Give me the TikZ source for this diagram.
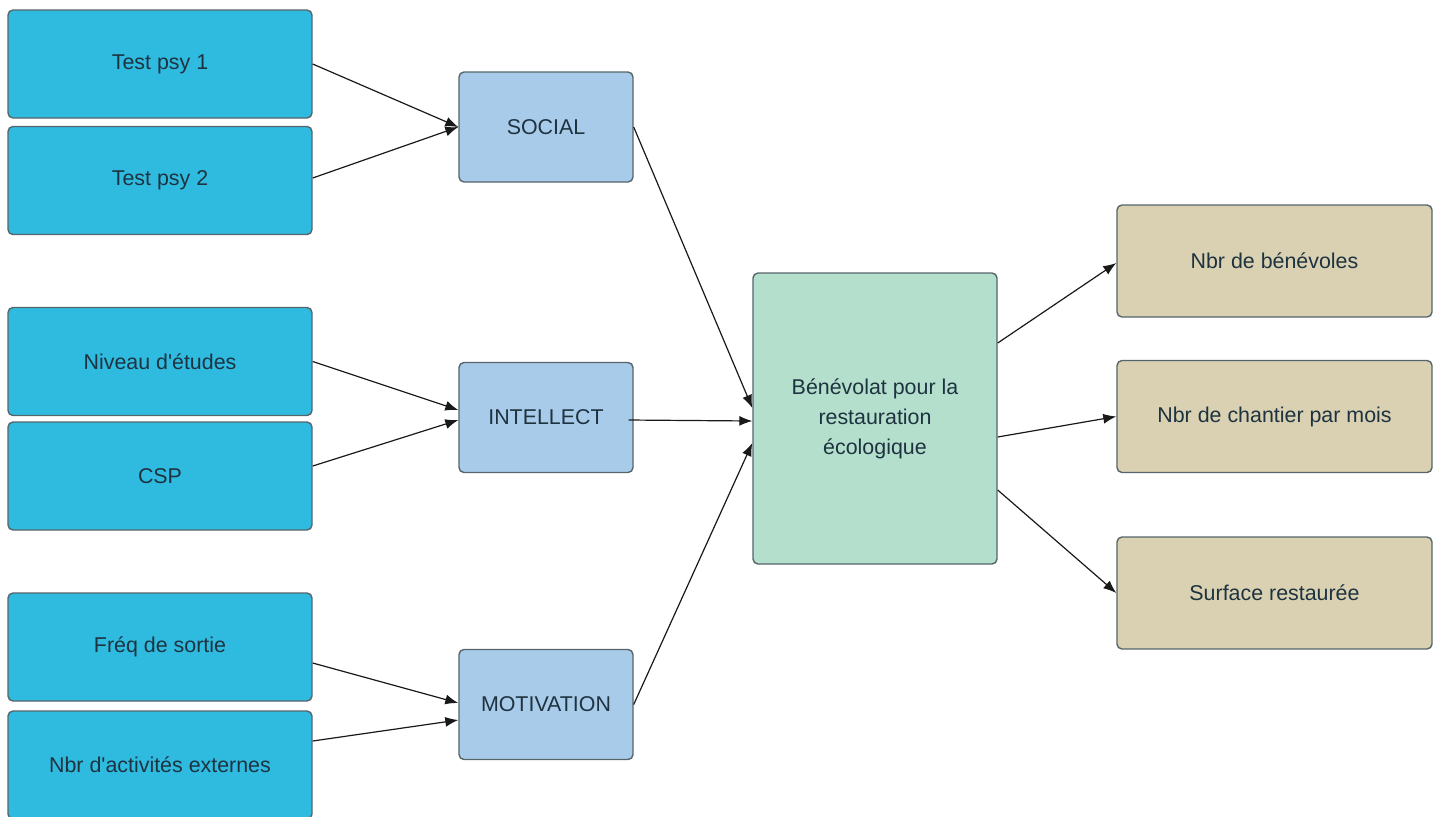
\documentclass[tikz,border=0pt]{standalone}
\usepackage{fontspec}
\setmainfont{Liberation Sans}
\usetikzlibrary{arrows.meta}
\definecolor{cyanbox}{HTML}{2FBBE0}
\definecolor{paleblue}{HTML}{A9CBEA}
\definecolor{palegreen}{HTML}{B4DFCC}
\definecolor{sand}{HTML}{D9D1B1}
\definecolor{edge}{HTML}{56656B}
\definecolor{ink}{HTML}{1E3340}
\begin{document}
\begin{tikzpicture}[
			x=0.5pt, y=-0.5pt,
			every node/.style={rectangle, rounded corners=2.5pt, draw=edge, line width=0.7pt, text=ink, font=\fontsize{10.7pt}{15pt}\selectfont, align=center, inner sep=0},
			measure/.style={fill=cyanbox, minimum width=152pt, minimum height=54pt},
			latent/.style={fill=paleblue, minimum width=87pt, minimum height=55pt},
			core/.style={fill=palegreen, minimum width=122pt, minimum height=145.5pt},
			result/.style={fill=sand, minimum width=157.5pt, minimum height=56pt},
			link/.style={-{Latex[length=6.5pt,width=5pt]}, line width=0.6pt, black!90},
		]
		\useasboundingbox (0,0) rectangle (1440,816);
		% indicateurs
		\node[measure] (psy1) at (160,64) {Test psy 1};
		\node[measure] (psy2) at (160,180.5) {Test psy 2};
		\node[measure] (etudes) at (160,361.5) {Niveau d\textquotesingle études};
		\node[measure] (csp) at (160,476) {CSP};
		\node[measure] (sortie) at (160,647) {Fréq de sortie};
		\node[measure] (activ) at (160,765) {Nbr d\textquotesingle activités externes};
		% variables latentes
		\node[latent] (social) at (546,127) {SOCIAL};
		\node[latent] (intellect) at (546,417.5) {INTELLECT};
		\node[latent] (motiv) at (546,704.5) {MOTIVATION};
		% centre
		\node[core] (benevolat) at (875,418.5) {Bénévolat pour la\\restauration\\écologique};
		% resultats
		\node[result] (nbrbenev) at (1274.5,261) {Nbr de bénévoles};
		\node[result] (chantier) at (1274.5,416.5) {Nbr de chantier par mois};
		\node[result] (surface) at (1274.5,593) {Surface restaurée};
		% fleches
		\draw[link] (psy1.east) -- (social.west);
		\draw[link] ([yshift=1.25pt]psy2.east) -- (social.west);
		\draw[link] (etudes.east) -- ([yshift=3.75pt]intellect.west);
		\draw[link] ([yshift=5pt]csp.east) -- ([yshift=-1.25pt]intellect.west);
		\draw[link] ([yshift=-8pt]sortie.east) -- ([yshift=0.75pt]motiv.west);
		\draw[link] ([yshift=12pt]activ.east) -- ([yshift=-7.75pt]motiv.west);
		\draw[link] (social.east) -- ([yshift=5.25pt]benevolat.west);
		\draw[link] ([xshift=-2.5pt,yshift=-1.25pt]intellect.east) -- ([yshift=-1.25pt]benevolat.west);
		\draw[link] (motiv.east) -- ([yshift=-12.25pt]benevolat.west);
		\draw[link] ([yshift=37.75pt]benevolat.east) -- ([yshift=-1pt]nbrbenev.west);
		\draw[link] ([yshift=-9.25pt]benevolat.east) -- (chantier.west);
		\draw[link] ([yshift=-35.75pt]benevolat.east) -- (surface.west);
\end{tikzpicture}
\end{document}
